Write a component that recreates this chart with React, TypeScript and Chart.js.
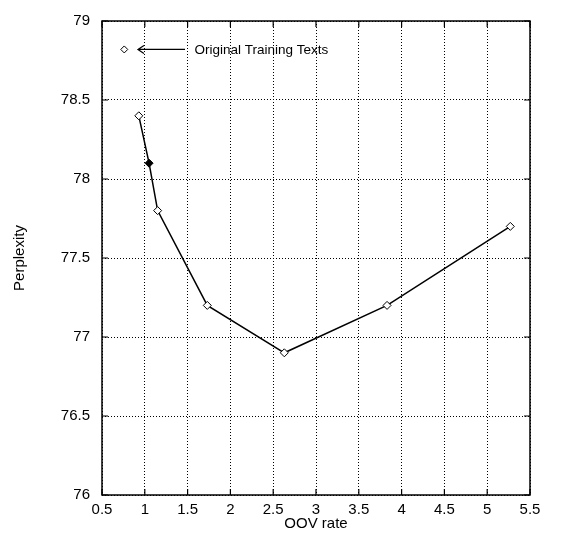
import React, { useEffect, useRef } from "react";
import { Chart, registerables } from "chart.js";

Chart.register(...registerables);

// Data
const oovRate = [0.93, 1.05, 1.15, 1.73, 2.63, 3.83, 5.27];
const perplexity = [78.4, 78.1, 77.8, 77.2, 76.9, 77.2, 77.7];
const filledPointIndex = 1;

const xTickValues = [0.5, 1, 1.5, 2, 2.5, 3, 3.5, 4, 4.5, 5, 5.5];
const yTickValues = [76, 76.5, 77, 77.5, 78, 78.5, 79];

const xTitle = "OOV rate";
const yTitle = "Perplexity";

const annotationText = "Original Training Texts";
const annotationMarkerX = 0.76;
const annotationY = 78.82;
const arrowTipX = 0.92;
const arrowTailX = 1.47;
const annotationTextX = 1.58;

const FONT = "'Liberation Sans', Arial, Helvetica, sans-serif";

const framePlugin = {
  id: "frame",
  afterDraw(chart: any) {
    const { ctx, chartArea } = chart;
    const { left, right, top, bottom } = chartArea;
    const xs = chart.scales.x;
    const ys = chart.scales.y;
    ctx.save();
    ctx.setLineDash([]);
    ctx.strokeStyle = "#000";
    ctx.lineWidth = 1.5;
    ctx.strokeRect(left, top, right - left, bottom - top);
    const tl = 6;
    ctx.lineWidth = 1.2;
    ctx.beginPath();
    xTickValues.forEach((v) => {
      const px = xs.getPixelForValue(v);
      ctx.moveTo(px, bottom);
      ctx.lineTo(px, bottom - tl);
      ctx.moveTo(px, top);
      ctx.lineTo(px, top + tl);
    });
    yTickValues.forEach((v) => {
      const py = ys.getPixelForValue(v);
      ctx.moveTo(left, py);
      ctx.lineTo(left + tl, py);
      ctx.moveTo(right, py);
      ctx.lineTo(right - tl, py);
    });
    ctx.stroke();

    // annotation
    const ay = ys.getPixelForValue(annotationY);
    const mx = xs.getPixelForValue(annotationMarkerX);
    const r = 3.5;
    ctx.lineWidth = 1;
    ctx.fillStyle = "#fff";
    ctx.beginPath();
    ctx.moveTo(mx, ay - r);
    ctx.lineTo(mx + r, ay);
    ctx.lineTo(mx, ay + r);
    ctx.lineTo(mx - r, ay);
    ctx.closePath();
    ctx.fill();
    ctx.stroke();

    const tipX = xs.getPixelForValue(arrowTipX);
    const tailX = xs.getPixelForValue(arrowTailX);
    ctx.lineWidth = 1.2;
    ctx.beginPath();
    ctx.moveTo(tailX, ay);
    ctx.lineTo(tipX, ay);
    ctx.moveTo(tipX + 6, ay - 4);
    ctx.lineTo(tipX, ay);
    ctx.lineTo(tipX + 6, ay + 4);
    ctx.stroke();

    ctx.fillStyle = "#000";
    ctx.font = `13.5px ${FONT}`;
    ctx.textAlign = "left";
    ctx.textBaseline = "middle";
    ctx.fillText(annotationText, xs.getPixelForValue(annotationTextX), ay + 1);
    ctx.restore();
  },
};

export default function App() {
  const ref = useRef<HTMLCanvasElement | null>(null);

  useEffect(() => {
    if (!ref.current) return;
    const pts = oovRate.map((x, i) => ({ x, y: perplexity[i] }));
    const chart = new Chart(ref.current, {
      type: "scatter",
      data: {
        datasets: [
          {
            data: pts,
            showLine: true,
            borderColor: "#000",
            borderWidth: 1.5,
            pointStyle: "rectRot",
            pointRadius: 4,
            pointBorderWidth: 1,
            pointBorderColor: "#000",
            pointBackgroundColor: perplexity.map((_, i) =>
              i === filledPointIndex ? "#000" : "#fff"
            ),
          },
        ],
      },
      options: {
        responsive: false,
        animation: false,
        events: [],
        layout: { padding: { top: 20, right: 46, left: 0, bottom: 0 } },
        plugins: {
          legend: { display: false },
          tooltip: { enabled: false },
        },
        scales: {
          x: {
            type: "linear",
            min: 0.5,
            max: 5.5,
            afterBuildTicks: (s: any) => {
              s.ticks = xTickValues.map((v) => ({ value: v }));
            },
            afterFit: (s: any) => {
              s.height = 38;
            },
            ticks: {
              callback: (v: any) => String(v),
              color: "#000",
              font: { family: FONT, size: 15 },
              padding: 6,
              maxRotation: 0,
              autoSkip: false,
            },
            grid: {
              color: "#000",
              lineWidth: 1,
              drawTicks: false,
            },
            border: { display: false, dash: [1, 2] },
            title: {
              display: true,
              text: xTitle,
              color: "#000",
              font: { family: FONT, size: 15 },
              padding: { top: 0, bottom: 0 },
            },
          },
          y: {
            type: "linear",
            min: 76,
            max: 79,
            afterBuildTicks: (s: any) => {
              s.ticks = yTickValues.map((v) => ({ value: v }));
            },
            afterFit: (s: any) => {
              s.width = 102;
            },
            ticks: {
              callback: (v: any) => String(v),
              color: "#000",
              font: { family: FONT, size: 15 },
              padding: 12,
              autoSkip: false,
            },
            grid: {
              color: "#000",
              lineWidth: 1,
              drawTicks: false,
            },
            border: { display: false, dash: [1, 2] },
            title: {
              display: true,
              text: yTitle,
              color: "#000",
              font: { family: FONT, size: 15 },
              padding: { top: 11, bottom: 0 },
            },
          },
        },
      },
      plugins: [framePlugin],
    });
    return () => chart.destroy();
  }, []);

  return (
    <div style={{ position: "absolute", left: 0, top: 0, width: 576, height: 533, background: "#fff" }}>
      <canvas ref={ref} width={576} height={533} style={{ display: "block" }} />
    </div>
  );
}
